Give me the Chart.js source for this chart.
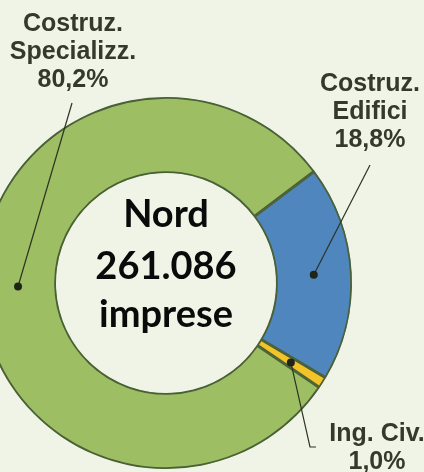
<!DOCTYPE html>
<html>
<head>
<meta charset="utf-8">
<script src="https://cdn.jsdelivr.net/npm/chart.js@4.4.1/dist/chart.umd.min.js"></script>
<style>
  html, body { margin: 0; padding: 0; background: #EFF4E6; overflow: hidden; }
  #wrap { position: absolute; left: -40px; top: 0; width: 464px; height: 472px; }
</style>
</head>
<body>
<div id="wrap"><canvas id="c"></canvas></div>
<script>
// Data
const categories = ['Costruz. Edifici', 'Ing. Civ.', 'Costruz. Specializz.'];
const shares = [18.8, 1.0, 80.2];
const labelLines = [
  ['Costruz.', 'Edifici', '18,8%'],
  ['Ing. Civ.', '1,0%'],
  ['Costruz.', 'Specializz.', '80,2%']
];
const centerLines = ['Nord', '261.086', 'imprese'];

const colors = ['#4F86BE', '#F2C42A', '#9DBE63'];

// label anchors as offsets from the chart centre (px), and leader-line elbow
const labelCfg = [
  { tx: 204, ty: -199, lx: 204, ly: -118 },
  { tx: 211, ty: 151, lx: 144, ly: 164, elbow: 150 },
  { tx: -93, ty: -259, lx: -94, ly: -180 }
];

const calloutPlugin = {
  id: 'callouts',
  afterDatasetsDraw(chart) {
    const ctx = chart.ctx;
    const meta = chart.getDatasetMeta(0);
    const arc0 = meta.data[0];
    const cx = arc0.x, cy = arc0.y;
    ctx.save();
    // centre text
    ctx.fillStyle = '#0a0a0a';
    ctx.textAlign = 'center';
    ctx.textBaseline = 'middle';
    ctx.font = 'bold 38px Lato, "Open Sans", sans-serif';
    const cOff = [-68, -16, 32];
    centerLines.forEach((t, i) => ctx.fillText(t, cx, cy + cOff[i]));

    meta.data.forEach((arc, i) => {
      const p = arc.tooltipPosition();
      const cfg = labelCfg[i];
      ctx.strokeStyle = '#2b3322';
      ctx.lineWidth = 1.2;
      ctx.beginPath();
      ctx.moveTo(p.x, p.y);
      if (cfg.elbow !== undefined) {
        ctx.lineTo(cx + cfg.lx, cy + cfg.ly);
        ctx.lineTo(cx + cfg.lx + 6, cy + cfg.ly);
      } else {
        ctx.lineTo(cx + cfg.lx, cy + cfg.ly);
      }
      ctx.stroke();
      ctx.fillStyle = '#1f2619';
      ctx.beginPath();
      ctx.arc(p.x, p.y, 4, 0, Math.PI * 2);
      ctx.fill();

      ctx.fillStyle = '#333a2c';
      ctx.font = 'bold 25px "Liberation Sans", Arial, sans-serif';
      ctx.textAlign = 'center';
      ctx.textBaseline = 'middle';
      labelLines[i].forEach((t, j) => ctx.fillText(t, cx + cfg.tx, cy + cfg.ty + j * 28));
    });
    ctx.restore();
  }
};

new Chart(document.getElementById('c'), {
  type: 'doughnut',
  data: {
    labels: categories,
    datasets: [{
      data: shares,
      backgroundColor: colors,
      borderColor: '#4A6138',
      borderWidth: 1.5,
      borderAlign: 'inner'
    }]
  },
  options: {
    responsive: true,
    maintainAspectRatio: false,
    animation: false,
    rotation: 53,
    radius: 186,
    cutout: 110,
    layout: { padding: { left: 20, right: 72, top: 97, bottom: 3 } },
    plugins: { legend: { display: false }, tooltip: { enabled: false } }
  },
  plugins: [calloutPlugin]
});
</script>
</body>
</html>
